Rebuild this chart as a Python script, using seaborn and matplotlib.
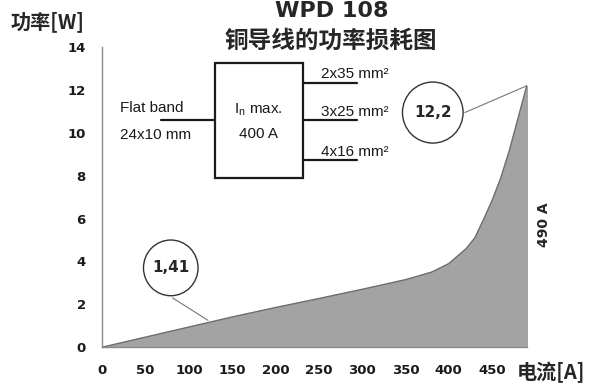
import numpy as np
import pandas as pd
import matplotlib.pyplot as plt
import seaborn as sns
from matplotlib.patches import Ellipse, Rectangle
from matplotlib.ticker import MultipleLocator

# Strom [A] und Verlustleistung [W]
current = [0, 50, 100, 150, 200, 250, 300, 350, 380, 400, 420, 430, 440, 450, 460, 470, 480, 490]
power = [0, 0.47, 0.94, 1.41, 1.85, 2.27, 2.7, 3.15, 3.5, 3.9, 4.6, 5.1, 5.95, 6.85, 7.9, 9.2, 10.7, 12.2]
x_ticks = [0, 50, 100, 150, 200, 250, 300, 350, 400, 450]
y_ticks = [0, 2, 4, 6, 8, 10, 12, 14]
cables = ["2x35 mm²", "3x25 mm²", "4x16 mm²"]

sns.set_style("white")
plt.rcParams['font.family'] = ['DejaVu Sans', 'Noto Sans CJK SC']
cjk = ['Noto Sans CJK SC', 'DejaVu Sans']
narrow = ['Liberation Sans Narrow', 'Liberation Sans', 'DejaVu Sans']

df = pd.DataFrame({"I": current, "P": power})

fig = plt.figure(figsize=(6.02, 3.87), dpi=100)
ax = fig.add_axes([0.170, 0.103, 0.705, 0.775])

ax.fill_between(df["I"], df["P"], color="#a3a3a3", zorder=1)
sns.lineplot(data=df, x="I", y="P", ax=ax, color="#6e6e6e", linewidth=1.0, zorder=2)
ax.vlines(df["I"].iloc[-1], 0, df["P"].iloc[-1], color="#8a8a8a", linewidth=1.0)

ax.set_xlim(0, 490)
ax.set_ylim(0, 14)
ax.set_xticks(x_ticks)
ax.set_yticks(y_ticks)
ax.xaxis.set_minor_locator(MultipleLocator(25))
ax.yaxis.set_minor_locator(MultipleLocator(0.4))
ax.set_xlabel("")
ax.set_ylabel("")
for s in ["top", "right"]:
    ax.spines[s].set_visible(False)
for s in ["left", "bottom"]:
    ax.spines[s].set_color("#8a8a8a")
    ax.spines[s].set_linewidth(1.0)
ax.tick_params(which="both", direction="out", color="#8a8a8a", width=0.8)
ax.tick_params(which="major", length=4, labelsize=9.5, labelcolor="#1a1a1a", pad=8)
ax.tick_params(which="minor", length=2.5)
ax.tick_params(axis="x", which="minor", length=4)
for lab in ax.get_xticklabels() + ax.get_yticklabels():
    lab.set_fontweight("bold")

# Titel und Achsentitel
fig.text(0.551, 0.972, "WPD 108", ha="center", va="center", fontsize=16, fontweight="bold")
fig.text(0.549, 0.894, "铜导线的功率损耗图", ha="center", va="center", fontsize=17,
         fontweight="bold", family=cjk)
fig.text(0.018, 0.945, "功率[W]", ha="left", va="center", fontsize=14.5, fontweight="bold", family=cjk)
fig.text(0.915, 0.038, "电流[A]", ha="center", va="center", fontsize=14.5, fontweight="bold", family=cjk)
ax.text(510, 5.7, "490 A", rotation=90, ha="center", va="center", fontsize=10,
        fontweight="bold", clip_on=False)

# Schaltbild
ax.add_patch(Rectangle((130, 7.9), 101.5, 5.35, fill=False, edgecolor="#1a1a1a", linewidth=1.6, zorder=3))
ax.plot([68, 130], [10.6, 10.6], color="#1a1a1a", linewidth=1.6)
ax.text(20, 11.15, "Flat band", fontsize=11, family=narrow, va="center", color="#1a1a1a")
ax.text(20, 9.9, "24x10 mm", fontsize=11, family=narrow, va="center", color="#1a1a1a")
ax.text(180.5, 11.1, "I$_\\mathregular{n}$ max.", fontsize=11, family=narrow, ha="center", va="center", color="#1a1a1a")
ax.text(180.5, 9.93, "400 A", fontsize=11, family=narrow, ha="center", va="center", color="#1a1a1a")
for lbl, yl in zip(cables, [12.35, 10.6, 8.75]):
    ax.plot([231.5, 294], [yl, yl], color="#1a1a1a", linewidth=1.6)
    ax.text(253, yl + 0.38, lbl, fontsize=11, family=narrow, va="center", color="#1a1a1a")

# Markierungen
ax.add_patch(Ellipse((381.5, 10.95), 70, 2.85, fill=False, edgecolor="#333333", linewidth=1.0))
ax.text(381.5, 10.95, "12,2", ha="center", va="center", fontsize=11, fontweight="bold")
ax.plot([418.5, 490], [10.95, 12.2], color="#777777", linewidth=0.8)
ax.add_patch(Ellipse((79, 3.7), 63, 2.6, fill=False, edgecolor="#333333", linewidth=1.0))
ax.text(79, 3.7, "1,41", ha="center", va="center", fontsize=11, fontweight="bold")
ax.plot([81, 122], [2.3, 1.25], color="#777777", linewidth=0.8)

fig.savefig("out.png", dpi=100)
